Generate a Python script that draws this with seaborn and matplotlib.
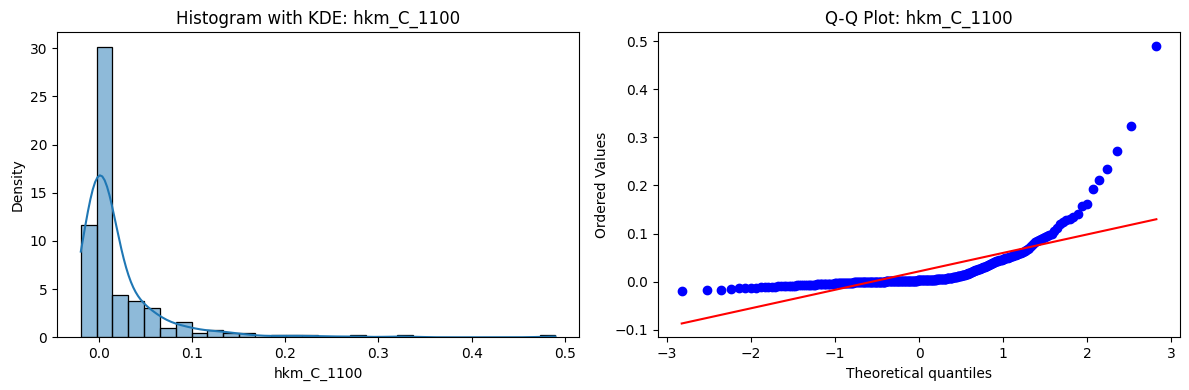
from statistics import NormalDist

import matplotlib

matplotlib.use("Agg")
import matplotlib.pyplot as plt
import numpy as np
import seaborn as sns

column_name = "hkm_C_1100"

low_values = [
    -0.0195, -0.018, -0.017, -0.015, -0.014,
    -0.0135, -0.013, -0.0125, -0.012,
    -0.0115, -0.0112, -0.0108, -0.0105, -0.0101,
    -0.0098, -0.0095, -0.0093, -0.009, -0.0087,
    -0.0085, -0.0083, -0.008, -0.0078, -0.0076,
    -0.0074, -0.0072, -0.007, -0.0068, -0.0066,
    -0.0065, -0.0063, -0.0062, -0.006, -0.0058,
    -0.0057, -0.0055, -0.0054, -0.0052, -0.005,
    -0.0049, -0.0048, -0.0047, -0.0045, -0.0044,
    -0.0043, -0.0041, -0.004, -0.0039, -0.0037,
    -0.0036, -0.0035, -0.0034, -0.0033, -0.0032,
    -0.0031, -0.003, -0.0029, -0.0027,
]

peak_values = [
    -0.0024, -0.0023, -0.0023, -0.0022, -0.0021, -0.0021, -0.002, -0.0019, -0.0019, -0.0018,
    -0.0017, -0.0017, -0.0016, -0.0015, -0.0015, -0.0014, -0.0013, -0.0013, -0.0012, -0.0011,
    -0.0011, -0.001, -0.001, -0.0009, -0.0009, -0.0008, -0.0008, -0.0007, -0.0007, -0.0006,
    -0.0006, -0.0005, -0.0005, -0.0004, -0.0004, -0.0003, -0.0003, -0.0002, -0.0002, -0.0001,
    -0.0001, 0.0, 0.0, 0.0001, 0.0001, 0.0002, 0.0002, 0.0003, 0.0003, 0.0004,
    0.0004, 0.0005, 0.0005, 0.0006, 0.0006, 0.0007, 0.0007, 0.0008, 0.0008, 0.0008,
    0.0009, 0.0009, 0.001, 0.001, 0.0011, 0.0011, 0.0012, 0.0012, 0.0013, 0.0013,
    0.0014, 0.0014, 0.0015, 0.0015, 0.0016, 0.0016, 0.0017, 0.0017, 0.0018, 0.0018,
    0.0019, 0.0019, 0.002, 0.002, 0.0021, 0.0021, 0.0022, 0.0022, 0.0023, 0.0023,
    0.0024, 0.0025, 0.0025, 0.0026, 0.0027, 0.0027, 0.0028, 0.0029, 0.0029, 0.003,
    0.0031, 0.0032, 0.0033, 0.0034, 0.0035, 0.0036, 0.0037, 0.0038, 0.0039, 0.004,
    0.0041, 0.0042, 0.0043, 0.0045, 0.0046, 0.0047, 0.0048, 0.005, 0.0051, 0.0052,
    0.0054, 0.0055, 0.0057, 0.0058, 0.006, 0.0062, 0.0064, 0.0066, 0.0068, 0.0071,
    0.0074, 0.0077, 0.008, 0.0083, 0.0086, 0.0089, 0.0092, 0.0096, 0.01, 0.0104,
    0.0108, 0.0112, 0.0116, 0.012, 0.0124, 0.0128, 0.0132, 0.0136, 0.014, 0.0143,
]

shoulder_values = [
    0.0148, 0.0155, 0.0163, 0.017, 0.0178, 0.0186, 0.0194, 0.0201, 0.0209, 0.0217, 0.0225,
    0.0232, 0.024, 0.0248, 0.0256, 0.0263, 0.0271, 0.0279, 0.0287, 0.0294, 0.0302, 0.031,
    0.032, 0.033, 0.034, 0.035, 0.036, 0.037, 0.038, 0.039, 0.040, 0.041,
    0.042, 0.043, 0.0435, 0.044, 0.045, 0.0455, 0.046, 0.047, 0.048,
    0.049, 0.050, 0.051, 0.052, 0.053, 0.054, 0.055, 0.056, 0.057, 0.058,
    0.059, 0.060, 0.062, 0.063, 0.065,
]

tail_values = [
    0.067, 0.070, 0.074, 0.078, 0.082,
    0.084, 0.086, 0.088, 0.090, 0.092, 0.094, 0.096, 0.098,
    0.105, 0.112,
    0.120, 0.125, 0.128, 0.131,
    0.135, 0.141,
    0.157, 0.161,
    0.193, 0.212, 0.234, 0.271, 0.324, 0.490,
]


def qq_points(values):
    # same order statistic medians as scipy.stats.probplot
    ordered = np.sort(np.asarray(values))
    n = len(ordered)
    m = (np.arange(1, n + 1) - 0.3175) / (n + 0.365)
    m[0] = 1 - 0.5 ** (1 / n)
    m[-1] = 0.5 ** (1 / n)
    norm = NormalDist()
    osm = np.array([norm.inv_cdf(p) for p in m])
    slope, intercept = np.polyfit(osm, ordered, 1)
    return osm, ordered, slope, intercept


def main():
    data = np.array(low_values + peak_values + shoulder_values + tail_values)

    fig, axes = plt.subplots(1, 2, figsize=(11.89, 3.9), dpi=100)

    sns.histplot(data, bins=30, kde=True, stat="density", ax=axes[0])
    axes[0].set_title(f"Histogram with KDE: {column_name}")
    axes[0].set_xlabel(column_name)
    axes[0].set_ylabel("Density")

    osm, osr, slope, intercept = qq_points(data)
    axes[1].plot(osm, osr, "bo")
    axes[1].plot(osm, slope * osm + intercept, "r-")
    axes[1].set_title(f"Q-Q Plot: {column_name}")
    axes[1].set_xlabel("Theoretical quantiles")
    axes[1].set_ylabel("Ordered Values")

    fig.subplots_adjust(left=0.048, right=0.9925, top=0.917, bottom=0.135, wspace=0.151)
    plt.savefig("out.png")


if __name__ == "__main__":
    main()
